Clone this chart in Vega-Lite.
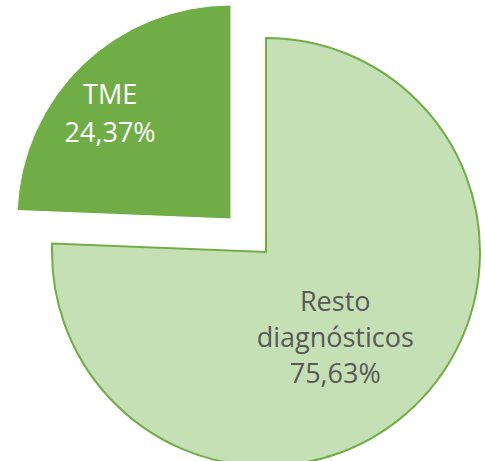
{
  "$schema": "https://vega.github.io/schema/vega-lite/v6.json",
  "width": 485,
  "height": 461,
  "autosize": {"type": "fit", "contains": "padding"},
  "padding": 0,
  "background": "white",
  "config": {"view": {"stroke": null}, "text": {"lineBreak": "\n"}},
  "data": {
    "values": [
      {"cat": "Resto diagnósticos", "value": 75.63, "label": "Resto\ndiagnósticos\n75,63%"},
      {"cat": "TME", "value": 24.37, "label": "TME\n24,37%"}
    ]
  },
  "encoding": {
    "theta": {"field": "value", "type": "quantitative", "stack": true},
    "color": {
      "field": "cat",
      "type": "nominal",
      "scale": {"domain": ["Resto diagnósticos", "TME"], "range": ["#C5E0B4", "#70AD47"]},
      "legend": null
    }
  },
  "layer": [
    {
      "mark": {"type": "arc", "outerRadius": 214, "xOffset": 23.5, "yOffset": 30.5, "stroke": "#70AD47", "strokeWidth": 2},
      "encoding": {
        "opacity": {"condition": {"test": "datum.cat === 'Resto diagnósticos'", "value": 1}, "value": 0}
      }
    },
    {
      "mark": {"type": "arc", "outerRadius": 214, "xOffset": -11.5, "yOffset": -2.5, "stroke": "white", "strokeWidth": 1},
      "encoding": {
        "opacity": {"condition": {"test": "datum.cat === 'TME'", "value": 1}, "value": 0}
      }
    },
    {
      "mark": {"type": "text", "radius": 110, "xOffset": 23.5, "yOffset": 30.5, "dx": -7, "dy": -28, "font": "Open Sans", "fontSize": 27, "lineHeight": 36, "align": "center", "baseline": "middle"},
      "encoding": {
        "text": {"field": "label"},
        "color": {"value": "#595959"},
        "opacity": {"condition": {"test": "datum.cat === 'Resto diagnósticos'", "value": 1}, "value": 0}
      }
    },
    {
      "mark": {"type": "text", "radius": 160, "xOffset": -11.5, "yOffset": -2.5, "dx": -10, "dy": -8, "font": "Open Sans", "fontSize": 27, "lineHeight": 38, "align": "center", "baseline": "middle"},
      "encoding": {
        "text": {"field": "label"},
        "color": {"value": "white"},
        "opacity": {"condition": {"test": "datum.cat === 'TME'", "value": 1}, "value": 0}
      }
    }
  ]
}
